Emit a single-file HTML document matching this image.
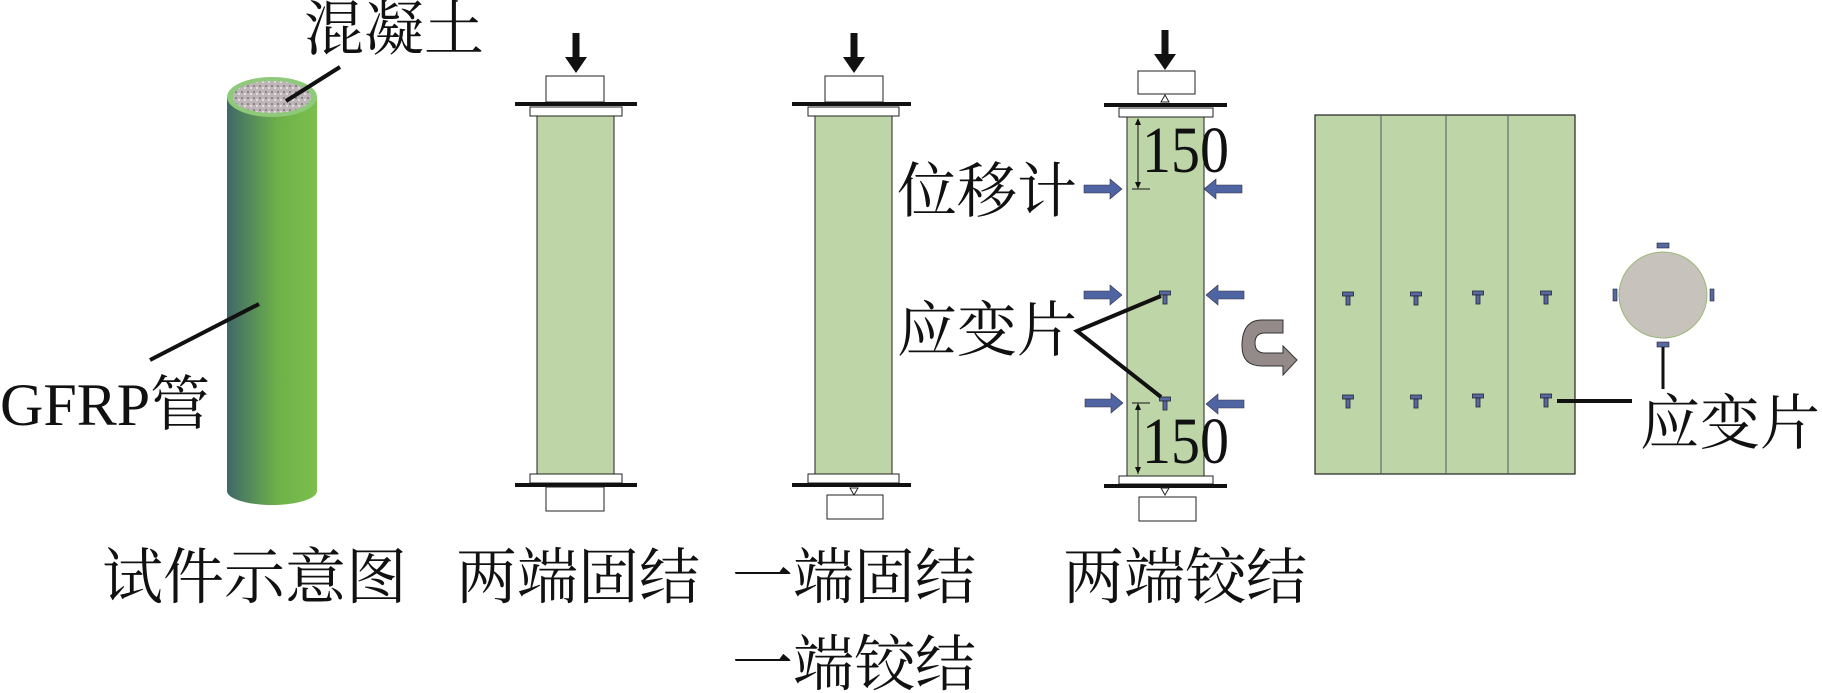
<!DOCTYPE html>
<html><head><meta charset="utf-8"><style>
html,body{margin:0;padding:0;background:#fff;}
svg{display:block;}
text{font-family:"Liberation Serif","Noto Serif CJK SC",serif;fill:#111;}
</style></head><body>
<svg width="1822" height="693" viewBox="0 0 1822 693" xmlns="http://www.w3.org/2000/svg">
<defs>
<linearGradient id="cyl" x1="0" x2="1" y1="0" y2="0">
<stop offset="0" stop-color="#3F6868"/><stop offset="0.55" stop-color="#6DB04A"/><stop offset="1" stop-color="#7CBF4C"/>
</linearGradient>
<pattern id="spk" width="6" height="6" patternUnits="userSpaceOnUse">
<rect width="6" height="6" fill="#BDB5B7"/><rect x="1" y="1" width="2" height="2" fill="#8E8588"/><rect x="4" y="3" width="2" height="2" fill="#E2DCDC"/>
</pattern>
<g id="gauge"><rect x="-5.5" y="-6" width="11" height="4" fill="#5868A0" stroke="#223" stroke-width="0.8"/><rect x="-2" y="-2" width="4" height="9" fill="#5868A0" stroke="#223" stroke-width="0.8"/></g>
<g id="arrR"><path d="M0,-4 L26,-4 L26,-10 L38,0 L26,10 L26,4 L0,4 Z" fill="#4F64A3" stroke="#334" stroke-width="0.6"/></g>
<g id="down"><rect x="-3.5" y="0" width="7" height="26" fill="#111"/><path d="M-11,24 L11,24 L0,40 Z" fill="#111"/></g>
</defs>

<!-- cylinder -->
<rect x="227" y="97" width="90" height="394" fill="url(#cyl)"/>
<ellipse cx="272" cy="491" rx="45" ry="14" fill="url(#cyl)"/>
<ellipse cx="272" cy="97" rx="45" ry="20" fill="#8FC97A"/>
<ellipse cx="272" cy="97" rx="39" ry="16" fill="url(#spk)"/>
<line x1="340" y1="67" x2="286" y2="101" stroke="#111" stroke-width="4"/>
<line x1="150" y1="360" x2="259" y2="304" stroke="#111" stroke-width="4"/>
<text x="304" y="50" font-size="60">混凝土</text>
<text x="0" y="425" font-size="60">GFRP管</text>

<!-- column 2 -->
<use href="#down" x="576" y="33"/>
<rect x="546" y="76" width="58" height="26" fill="#fff" stroke="#222" stroke-width="1"/>
<rect x="515" y="102" width="122" height="4" fill="#111"/>
<rect x="530" y="107" width="92" height="9" fill="#fff" stroke="#222" stroke-width="1"/>
<rect x="537" y="116" width="77" height="358" fill="#BDD5A7" stroke="#222" stroke-width="1"/>
<rect x="530" y="474" width="92" height="9" fill="#fff" stroke="#222" stroke-width="1"/>
<rect x="515" y="483" width="122" height="4" fill="#111"/>
<rect x="546" y="487" width="58" height="24" fill="#fff" stroke="#222" stroke-width="1"/>

<!-- column 3 -->
<use href="#down" x="854" y="33"/>
<rect x="825" y="76" width="58" height="26" fill="#fff" stroke="#222" stroke-width="1"/>
<rect x="792" y="102" width="119" height="4" fill="#111"/>
<rect x="808" y="107" width="91" height="9" fill="#fff" stroke="#222" stroke-width="1"/>
<rect x="815" y="116" width="77" height="358" fill="#BDD5A7" stroke="#222" stroke-width="1"/>
<rect x="808" y="474" width="91" height="9" fill="#fff" stroke="#222" stroke-width="1"/>
<rect x="792" y="483" width="119" height="4" fill="#111"/>
<path d="M850,488 L858,488 L854,495 Z" fill="#fff" stroke="#222" stroke-width="1"/>
<rect x="827" y="495" width="56" height="24" fill="#fff" stroke="#222" stroke-width="1"/>

<!-- column 4 -->
<use href="#down" x="1165" y="30"/>
<rect x="1138" y="71" width="57" height="23" fill="#fff" stroke="#222" stroke-width="1"/>
<path d="M1161,102 L1169,102 L1165,95 Z" fill="#fff" stroke="#222" stroke-width="1"/>
<rect x="1104" y="103" width="123" height="4" fill="#111"/>
<rect x="1119" y="108" width="94" height="9" fill="#fff" stroke="#222" stroke-width="1"/>
<rect x="1127" y="117" width="77" height="359" fill="#BDD5A7" stroke="#222" stroke-width="1"/>
<rect x="1119" y="476" width="94" height="8" fill="#fff" stroke="#222" stroke-width="1"/>
<rect x="1104" y="484" width="123" height="4" fill="#111"/>
<path d="M1161,488 L1169,488 L1165,495 Z" fill="#fff" stroke="#222" stroke-width="1"/>
<rect x="1139" y="497" width="57" height="24" fill="#fff" stroke="#222" stroke-width="1"/>
<!-- dims -->
<line x1="1138" y1="119" x2="1138" y2="188" stroke="#111" stroke-width="1"/>
<line x1="1132" y1="189" x2="1150" y2="189" stroke="#111" stroke-width="1"/>
<path d="M1135,125 L1138,118 L1141,125 Z M1135,182 L1138,189 L1141,182 Z" fill="#111"/>
<line x1="1138" y1="404" x2="1138" y2="474" stroke="#111" stroke-width="1"/>
<line x1="1132" y1="403" x2="1150" y2="403" stroke="#111" stroke-width="1"/>
<path d="M1135,410 L1138,403 L1141,410 Z M1135,467 L1138,474 L1141,467 Z" fill="#111"/>
<text x="1142" y="172" font-size="66" textLength="87" lengthAdjust="spacingAndGlyphs">150</text>
<text x="1142" y="463" font-size="66" textLength="87" lengthAdjust="spacingAndGlyphs">150</text>
<!-- displacement arrows -->
<use href="#arrR" x="1084" y="189"/><use href="#arrR" x="1084" y="295"/><use href="#arrR" x="1085" y="403"/>
<use href="#arrR" transform="translate(1242,189) scale(-1,1)"/>
<use href="#arrR" transform="translate(1244,295) scale(-1,1)"/>
<use href="#arrR" transform="translate(1244,404) scale(-1,1)"/>
<use href="#gauge" x="1165" y="297"/><use href="#gauge" x="1165" y="403"/>
<polyline points="1161,296 1077,331 1161,397" fill="none" stroke="#111" stroke-width="4"/>
<text x="897" y="212" font-size="60">位移计</text>
<text x="897" y="351" font-size="60">应变片</text>

<!-- curved arrow -->
<path d="M1283,320 L1262,320 Q1242,320 1242,346 Q1242,366 1262,366 L1283,366 L1283,375 L1297,360 L1283,346 L1283,353 L1265,353 Q1255,353 1255,343 Q1255,333 1265,333 L1283,333 Z" fill="#938A89" stroke="#333" stroke-width="1"/>

<!-- panel -->
<rect x="1315" y="115" width="260" height="359" fill="#BDD5A7" stroke="#222" stroke-width="1.2"/>
<line x1="1381" y1="115" x2="1381" y2="474" stroke="#556" stroke-width="1"/>
<line x1="1446" y1="115" x2="1446" y2="474" stroke="#556" stroke-width="1"/>
<line x1="1508" y1="115" x2="1508" y2="474" stroke="#556" stroke-width="1"/>
<use href="#gauge" x="1348" y="298"/><use href="#gauge" x="1416" y="298"/><use href="#gauge" x="1478" y="297"/><use href="#gauge" x="1546" y="297"/>
<use href="#gauge" x="1348" y="401"/><use href="#gauge" x="1416" y="401"/><use href="#gauge" x="1478" y="400"/><use href="#gauge" x="1546" y="400"/>
<line x1="1557" y1="401" x2="1632" y2="401" stroke="#111" stroke-width="4"/>

<!-- circle -->
<ellipse cx="1663" cy="295" rx="44" ry="43" fill="#C8C2BC" stroke="#9AB87A" stroke-width="1"/>
<rect x="1657" y="243" width="12" height="5" fill="#5868A0" stroke="#223" stroke-width="0.6"/>
<rect x="1657" y="342" width="12" height="5" fill="#5868A0" stroke="#223" stroke-width="0.6"/>
<rect x="1613" y="289" width="4" height="12" fill="#5868A0" stroke="#223" stroke-width="0.6"/>
<rect x="1710" y="289" width="4" height="12" fill="#5868A0" stroke="#223" stroke-width="0.6"/>
<line x1="1663" y1="347" x2="1663" y2="389" stroke="#111" stroke-width="3"/>
<text x="1640" y="444" font-size="60">应变片</text>

<!-- labels -->
<text x="102" y="598" font-size="61">试件示意图</text>
<text x="456" y="598" font-size="61">两端固结</text>
<text x="732" y="598" font-size="61">一端固结</text>
<text x="732" y="685" font-size="61">一端铰结</text>
<text x="1063" y="598" font-size="61">两端铰结</text>
</svg>
</body></html>
